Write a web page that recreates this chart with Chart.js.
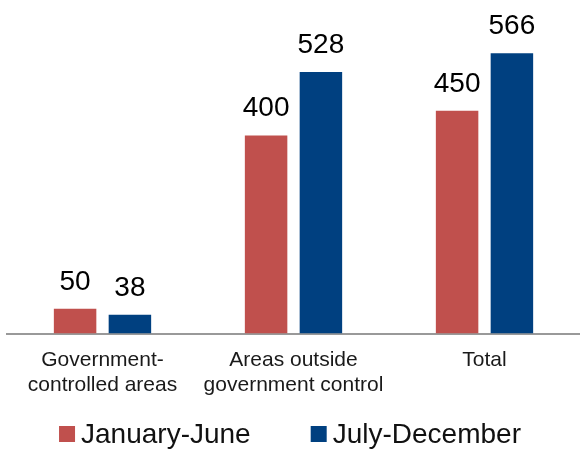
<!DOCTYPE html>
<html><head><meta charset="utf-8">
<script src="https://cdn.jsdelivr.net/npm/chart.js@4/dist/chart.umd.min.js"></script>
<style>html,body{margin:0;padding:0;background:#fff}#w{width:580px;height:449px}</style>
</head><body><div id="w"><canvas id="c"></canvas></div>
<script>
const categories = [["Government-","controlled areas"],["Areas outside","government control"],["Total"]];
const seriesNames = ["January-June","July-December"];
const janJune = [50, 400, 450];
const julDec = [38, 528, 566];
const colors = ["#C0504D","#004080"];
const FONT = '"Liberation Sans", Arial, sans-serif';

const labelPlugin = {
  id:'lbl',
  afterDatasetsDraw(chart){
    const ctx = chart.ctx;
    ctx.save();
    ctx.font = '28px ' + FONT;
    ctx.fillStyle = '#000';
    ctx.textAlign = 'center';
    ctx.textBaseline = 'alphabetic';
    chart.data.datasets.forEach((ds,i)=>{
      chart.getDatasetMeta(i).data.forEach((el,j)=>{
        ctx.fillText(String(ds.data[j]), el.x, el.y - 19);
      });
    });
    ctx.restore();
  }
};

const legendPlugin = {
  id:'customLegend',
  afterDraw(chart){
    const ctx = chart.ctx;
    ctx.save();
    ctx.font = '28px ' + FONT;
    const box = 16, gap = 6, itemGap = 60;
    const items = chart.data.datasets.map(ds=>({t:ds.label,c:ds.backgroundColor,w:ctx.measureText(ds.label).width}));
    let total = items.reduce((s,it)=>s+box+gap+it.w,0) + itemGap*(items.length-1);
    let x = (chart.width - total)/2;
    const base = 443;
    ctx.textBaseline = 'alphabetic';
    ctx.textAlign = 'left';
    items.forEach(it=>{
      ctx.fillStyle = it.c;
      ctx.fillRect(x, base - 1 - box, box, box);
      ctx.fillStyle = '#111';
      ctx.fillText(it.t, x + box + gap, base);
      x += box + gap + it.w + itemGap;
    });
    ctx.restore();
  }
};

new Chart(document.getElementById('c'),{
  type:'bar',
  data:{labels:categories,datasets:[
    {label:seriesNames[0],data:janJune,backgroundColor:colors[0],barPercentage:0.775,categoryPercentage:0.574},
    {label:seriesNames[1],data:julDec,backgroundColor:colors[1],barPercentage:0.775,categoryPercentage:0.574}
  ]},
  options:{
    responsive:true,maintainAspectRatio:false,animation:false,
    layout:{padding:{left:7,right:-7,top:20,bottom:37}},
    plugins:{
      legend:{display:false},
      tooltip:{enabled:false}
    },
    scales:{
      x:{grid:{display:false,drawTicks:false},border:{display:true,color:'#999',width:2},
         ticks:{color:'#1a1a1a',padding:14,maxRotation:0,autoSkip:false,font:{family:FONT,size:21,lineHeight:1.2}}},
      y:{display:false,min:0,max:633}
    }
  },
  plugins:[labelPlugin, legendPlugin]
});
</script></body></html>
